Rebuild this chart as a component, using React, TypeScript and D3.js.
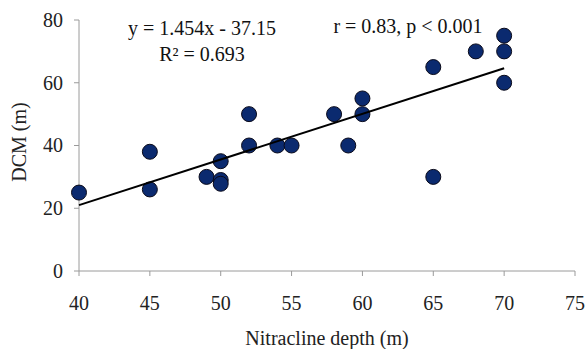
import React from "react";
import * as d3 from "d3";

const nitraclineDepth = [40, 45, 45, 49, 50, 50, 50, 52, 52, 54, 55, 58, 59, 60, 60, 65, 65, 68, 70, 70, 70];
const dcmDepth = [25, 38, 26, 30, 29, 27.8, 35, 50, 40, 40, 40, 50, 40, 55, 50, 65, 30, 70, 75, 70, 60];
const xTicks = [40, 45, 50, 55, 60, 65, 70, 75];
const yTicks = [0, 20, 40, 60, 80];
const slope = 1.454;
const intercept = -37.15;
const fitRange = [40, 70];

const W = 587;
const H = 349;
const FONT = "'Liberation Serif', 'Times New Roman', serif";
const FS = 20;

export default function App() {
  const x = d3.scaleLinear().domain([40, 75]).range([79, 575]);
  const y = d3.scaleLinear().domain([0, 80]).range([271, 20]);
  const line = d3
    .line<number>()
    .x((d) => x(d))
    .y((d) => y(slope * d + intercept));
  const axisColor = "#9a9a9a";

  return (
    <svg
      width={W}
      height={H}
      style={{ position: "absolute", left: 0, top: 0, background: "#fff" }}
      fontFamily={FONT}
    >
      {/* y axis */}
      <line x1={x(40)} x2={x(40)} y1={y(80)} y2={y(0)} stroke={axisColor} strokeWidth={1} />
      {yTicks.map((t) => (
        <g key={"y" + t}>
          <line x1={x(40) - 5} x2={x(40)} y1={y(t)} y2={y(t)} stroke={axisColor} />
          <text x={63} y={y(t)} dy="0.34em" textAnchor="end" fontSize={FS} fill="#222">
            {t}
          </text>
        </g>
      ))}
      {/* x axis */}
      <line x1={x(40)} x2={x(75)} y1={y(0)} y2={y(0)} stroke={axisColor} strokeWidth={1} />
      {xTicks.map((t) => (
        <g key={"x" + t}>
          <line x1={x(t)} x2={x(t)} y1={y(0)} y2={y(0) + 5} stroke={axisColor} />
          <text x={x(t)} y={310} textAnchor="middle" fontSize={FS} fill="#222">
            {t}
          </text>
        </g>
      ))}
      {/* axis titles */}
      <text x={327} y={345} textAnchor="middle" fontSize={FS} fill="#222">
        Nitracline depth (m)
      </text>
      <text
        transform={`translate(26,142) rotate(-90)`}
        textAnchor="middle"
        fontSize={FS}
        fill="#222"
      >
        DCM (m)
      </text>
      {/* points */}
      {nitraclineDepth.map((d, i) => (
        <circle
          key={"p" + i}
          cx={x(d)}
          cy={y(dcmDepth[i])}
          r={7.5}
          fill="#0b2a6f"
          stroke="#0a0a1a"
          strokeWidth={1}
        />
      ))}
      {/* regression line */}
      <path d={line(fitRange) || ""} stroke="#000" strokeWidth={2} fill="none" />
      {/* annotations */}
      <text x={202} y={35} textAnchor="middle" fontSize={FS} fill="#111">
        y = 1.454x - 37.15
      </text>
      <text x={202} y={61} textAnchor="middle" fontSize={FS} fill="#111">
        R² = 0.693
      </text>
      <text x={408} y={33} textAnchor="middle" fontSize={FS} fill="#111">
        r = 0.83, p &lt; 0.001
      </text>
    </svg>
  );
}
